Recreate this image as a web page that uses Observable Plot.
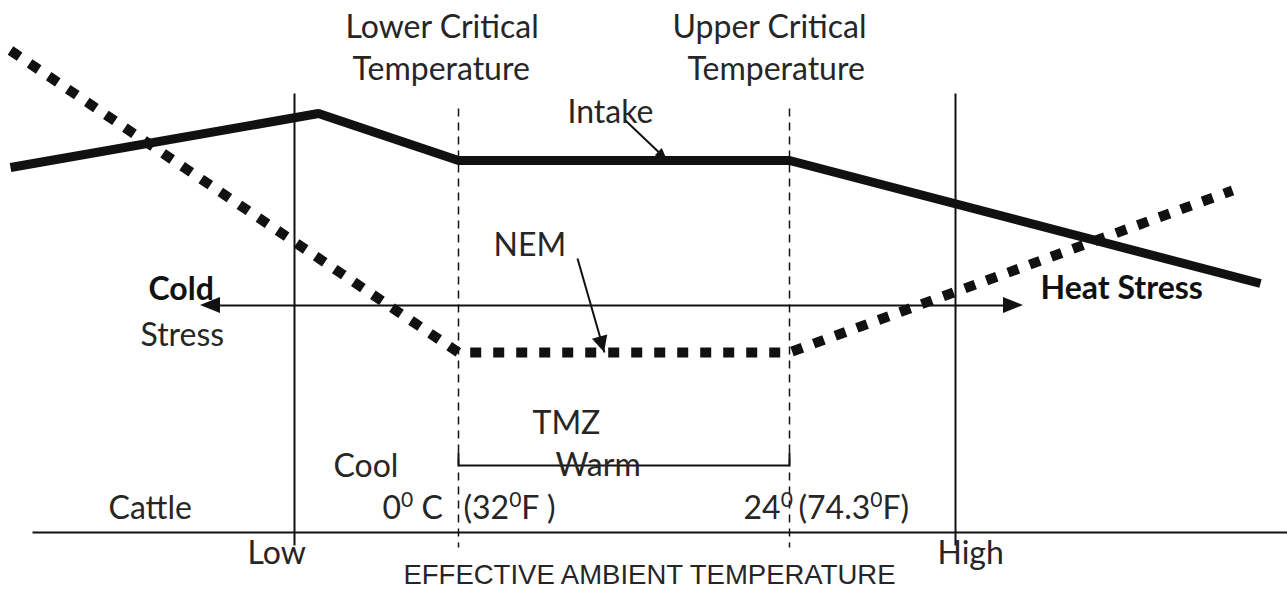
<!DOCTYPE html>
<html><head><meta charset="utf-8">
<script src="https://cdn.jsdelivr.net/npm/d3@7"></script>
<script src="https://cdn.jsdelivr.net/npm/@observablehq/plot@0.6"></script>
<style>html,body{margin:0;padding:0;background:#fff}</style>
</head><body><div id="chart"></div>
<script>
// Diagram units: x = effective ambient temperature position, y = response level (measured downward)
const intakeX = [10, 318, 458, 789, 1260];
const intakeY = [167, 113, 160, 160, 283];
const nemX = [10, 458, 789, 1232];
const nemY = [50, 352, 352, 190];

// reference lines: Low / High (solid), lower / upper critical temperature (dashed)
const solidRefX = [294, 955];
const solidRefTop = 93, solidRefBottom = 545;
const criticalX = [458, 789];
const criticalTop = 108, criticalBottom = 547;

// baseline axis
const axisX = [32, 1287];
const axisY = 532;

// stress double arrow
const stressArrowX = [200, 1023];
const stressArrowY = 305;

// TMZ bracket
const tmzX = [458, 458, 789, 789];
const tmzY = [452, 465, 465, 452];

// pointer arrows [x0, y0, x1, y1]
const intakePointer = [625, 120, 667, 160];
const nemPointer = [577, 258, 604, 352];

// labels
const calibriLabels = ["Lower Critical", "Temperature", "Upper Critical", "Temperature", "Intake", "NEM",
  "Stress", "Cool", "Cattle", "0⁰ C", "(32⁰F )", "24⁰", "(74.3⁰F)", "TMZ", "Warm", "Low", "High"];
const calibriX = [345, 352, 672, 687, 567, 493, 140, 333, 108, 382, 463, 743, 798, 532, 555, 247, 937];
const calibriY = [37, 79, 37, 79, 122, 255, 345, 476, 518, 518, 518, 518, 518, 433, 475, 563, 563];
const boldLabels = ["Cold", "Heat Stress"];
const boldX = [148, 1040];
const boldY = [299, 298];
const axisTitle = ["EFFECTIVE AMBIENT TEMPERATURE"];
const axisTitleX = [649];
const axisTitleY = [583];

// helpers
const pts = (xs, ys) => xs.map((x, i) => ({x, y: ys[i]}));
function head(id, x0, y0, x1, y1, len, half) {
  const dx = x1 - x0, dy = y1 - y0, d = Math.hypot(dx, dy);
  const ux = dx / d, uy = dy / d;
  const bx = x1 - len * ux, by = y1 - len * uy;
  return [
    {id, x1: x1, y1: y1, x2: x1, y2: y1},
    {id, x1: bx - half * uy, y1: by + half * ux, x2: bx + half * uy, y2: by - half * ux}
  ];
}
const heads = [
  ...head("L", stressArrowX[1], stressArrowY, stressArrowX[0], stressArrowY, 20, 8),
  ...head("R", stressArrowX[0], stressArrowY, stressArrowX[1], stressArrowY, 20, 8),
  ...head("I", ...intakePointer, 12, 5),
  ...head("N", ...nemPointer, 16, 8)
];
const links = [
  {x1: stressArrowX[0] + 10, y1: stressArrowY, x2: stressArrowX[1] - 10, y2: stressArrowY},
  {x1: intakePointer[0], y1: intakePointer[1], x2: intakePointer[2], y2: intakePointer[3]},
  {x1: nemPointer[0], y1: nemPointer[1], x2: nemPointer[2], y2: nemPointer[3]}
];
const verticals = solidRefX.map(x => ({x1: x, y1: solidRefTop, x2: x, y2: solidRefBottom}));
const dashed = criticalX.map(x => ({x1: x, y1: criticalTop, x2: x, y2: criticalBottom}));

const ink = "#111";
const textInk = "#262626";
const cal = "Lato, 'Noto Sans', sans-serif";

const chart = Plot.plot({
  width: 1287, height: 589,
  margin: 0,
  x: {domain: [0, 1287], range: [0, 1287], axis: null},
  y: {domain: [0, 589], range: [0, 589], axis: null},
  style: {background: "#fff"},
  marks: [
    Plot.link(dashed, {x1: "x1", y1: "y1", x2: "x2", y2: "y2", stroke: ink, strokeWidth: 1.5, strokeDasharray: "8,6", strokeLinecap: "butt"}),
    Plot.link(verticals, {x1: "x1", y1: "y1", x2: "x2", y2: "y2", stroke: ink, strokeWidth: 2}),
    Plot.link([{x1: axisX[0], x2: axisX[1]}], {x1: "x1", x2: "x2", y1: () => axisY, y2: () => axisY, stroke: ink, strokeWidth: 2}),
    Plot.line(pts(tmzX, tmzY), {x: "x", y: "y", stroke: ink, strokeWidth: 2, strokeLinecap: "butt", strokeLinejoin: "miter"}),
    Plot.link(links, {x1: "x1", y1: "y1", x2: "x2", y2: "y2", stroke: ink, strokeWidth: 2}),
    Plot.area(heads, {x1: "x1", y1: "y1", x2: "x2", y2: "y2", z: "id", fill: ink, curve: "linear"}),
    Plot.line(pts(intakeX, intakeY), {x: "x", y: "y", stroke: ink, strokeWidth: 9, strokeLinecap: "butt", strokeLinejoin: "miter"}),
    Plot.line(pts(nemX, nemY), {x: "x", y: "y", stroke: ink, strokeWidth: 10, strokeDasharray: "11,12", strokeLinecap: "butt", strokeLinejoin: "miter"}),
    Plot.text(calibriLabels, {x: (d, i) => calibriX[i], y: (d, i) => calibriY[i], text: d => d,
      textAnchor: "start", lineAnchor: "bottom", fontFamily: cal, fontSize: 32, fill: textInk}),
    Plot.text(boldLabels, {x: (d, i) => boldX[i], y: (d, i) => boldY[i], text: d => d,
      textAnchor: "start", lineAnchor: "bottom", fontFamily: cal, fontSize: 32, fontWeight: "bold", fill: "#111"}),
    Plot.text(axisTitle, {x: (d, i) => axisTitleX[i], y: (d, i) => axisTitleY[i], text: d => d,
      textAnchor: "middle", lineAnchor: "bottom", fontFamily: "'Liberation Sans', Arial, sans-serif", fontSize: 27.5, fill: textInk})
  ]
});

// render the superscript "⁰" as a raised small zero, as in the original
d3.select(chart).selectAll("text").each(function () {
  const el = this;
  const s = el.textContent;
  if (!s.includes("⁰")) return;
  const parts = s.split("⁰");
  while (el.firstChild) el.removeChild(el.firstChild);
  const sel = d3.select(el);
  parts.forEach((p, i) => {
    if (i > 0) {
      sel.append("tspan").attr("font-size", 21).attr("dy", -12).text("0");
      if (p.length) sel.append("tspan").attr("dy", 12).text(p);
    } else if (p.length) {
      sel.append("tspan").text(p);
    }
  });
});
document.getElementById("chart").appendChild(chart);
</script>
</body></html>
